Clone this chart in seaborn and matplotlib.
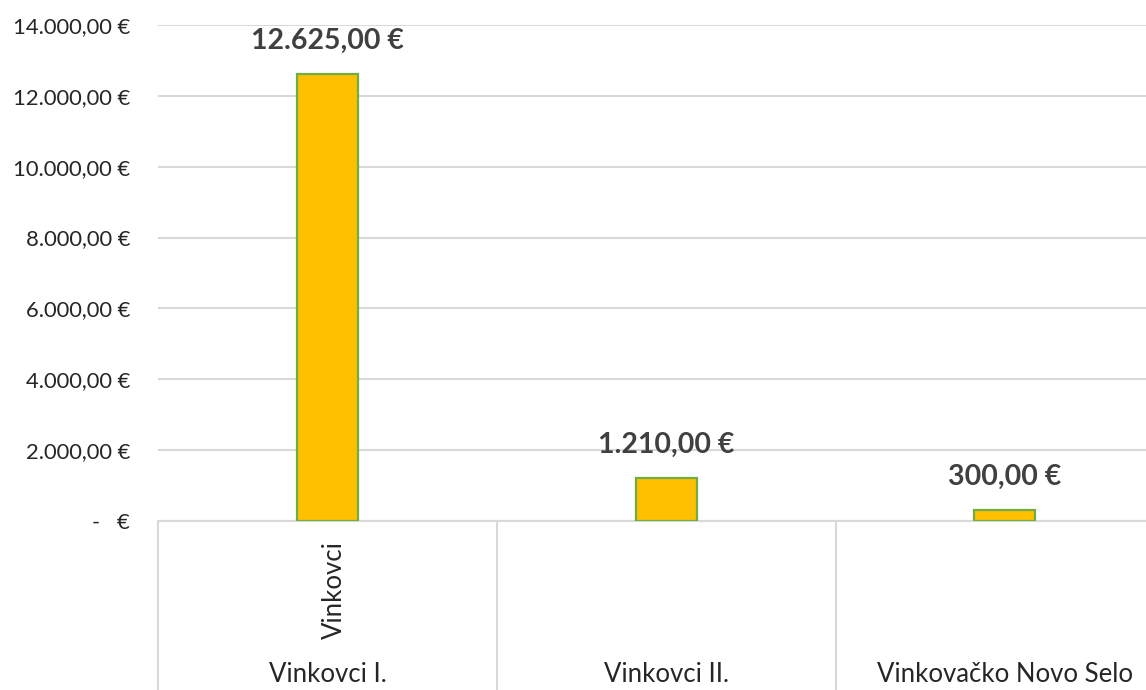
import matplotlib
matplotlib.use("Agg")
import matplotlib.pyplot as plt
import matplotlib.transforms as mtransforms
from matplotlib.ticker import FuncFormatter
import seaborn as sns
import pandas as pd

# data
locations = ["Vinkovci I.", "Vinkovci II.", "Vinkovačko Novo Selo"]
groups = ["Vinkovci", "", ""]
amounts = [12625.00, 1210.00, 300.00]
y_ticks = [0, 2000, 4000, 6000, 8000, 10000, 12000, 14000]


def eur(v):
    if v == 0:
        return "-   €"
    s = f"{v:,.2f}"
    s = s.replace(",", "X").replace(".", ",").replace("X", ".")
    return s + " €"


sns.set_style("white")
plt.rcParams["font.family"] = ["Lato", "DejaVu Sans"]

df = pd.DataFrame({"loc": locations, "amount": amounts})

fig = plt.figure(figsize=(11.46, 6.90), dpi=100)
ax = fig.add_axes([158 / 1146, (690 - 521) / 690, 1 - 158 / 1146, (521 - 25) / 690])

sns.barplot(data=df, x="loc", y="amount", ax=ax, color="#FFC000",
            width=0.18, saturation=1, edgecolor="#70AD47", linewidth=1.6, zorder=3)

ax.set_ylim(0, 14000)
ax.set_xlim(-0.5, (1146 - 328) / 338.5)
ax.set_yticks(y_ticks)
ax.yaxis.set_major_formatter(FuncFormatter(lambda v, p: eur(v)))
ax.tick_params(axis="y", length=0, pad=20, labelsize=15.8, labelcolor="#262626")
ax.grid(axis="y", color="#D9D9D9", linewidth=1.5, zorder=0)
ax.set_axisbelow(True)
for s in ["top", "right", "left"]:
    ax.spines[s].set_visible(False)
ax.spines["bottom"].set_color("#D9D9D9")
ax.spines["bottom"].set_linewidth(1.5)
ax.set_xlabel("")
ax.set_ylabel("")
ax.set_xticks([])

# value labels
for i, v in enumerate(amounts):
    ax.annotate(eur(v), (i, v), xytext=(0, 24), textcoords="offset points",
                ha="center", va="center", fontsize=20.5, fontweight="bold",
                color="#404040")

# multi-level category axis
trans = mtransforms.blended_transform_factory(ax.transData, ax.transAxes)
px = 1 / 496
for xb in [-0.5, 0.5, 1.5, 2.5]:
    ax.plot([xb, xb], [0, -170 * px], transform=trans, color="#D9D9D9",
            linewidth=1.5, clip_on=False)
for i, (g, loc) in enumerate(zip(groups, locations)):
    if g:
        ax.text(i + 0.02, -69 * px, g, transform=trans, rotation=90,
                ha="center", va="center", fontsize=18.5, color="#262626")
    ax.text(i, -154 * px, loc, transform=trans, ha="center", va="center",
            fontsize=18.5, color="#262626")

fig.savefig("out.png", dpi=100)
